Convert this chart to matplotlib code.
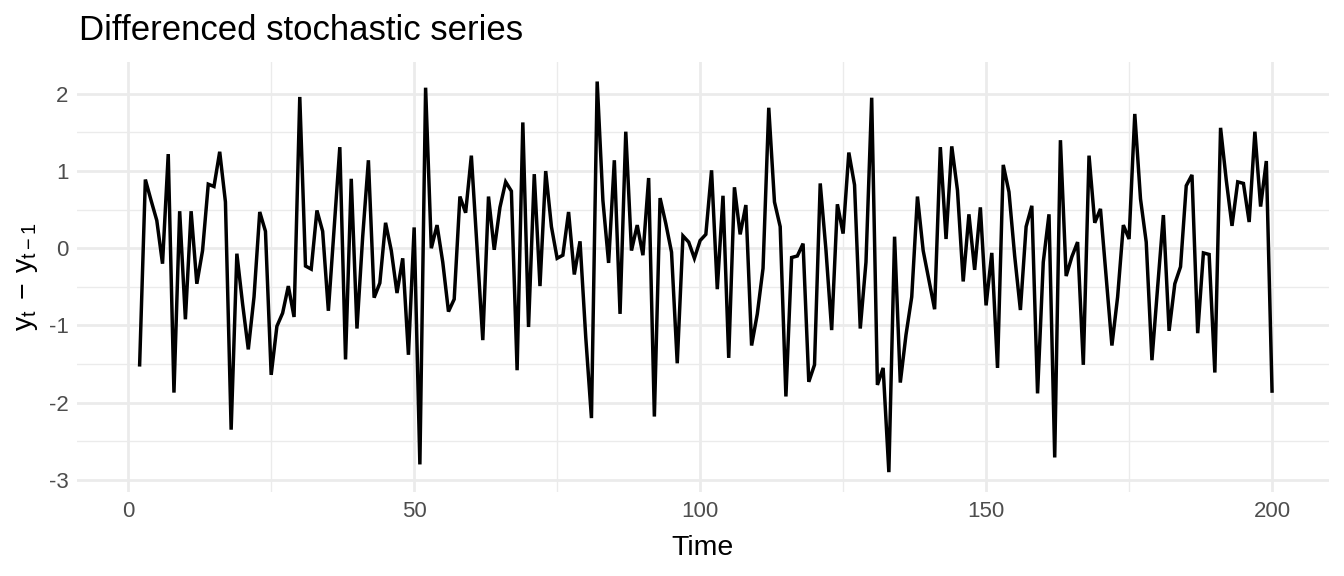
import numpy as np
import matplotlib
matplotlib.use("Agg")
import matplotlib.pyplot as plt
from matplotlib.ticker import MultipleLocator

# differenced series, t = 2..200
time = np.arange(2, 201)
diff_vals = [
    -1.51, 0.89, 0.62, 0.36, -0.20, 1.22, -1.87, 0.48, -0.92, 0.48,          # t2-11
    -0.46, -0.03, 0.83, 0.80, 1.25, 0.60, -2.35, -0.07, -0.72, -1.31,        # t12-21
    -0.63, 0.47, 0.22, -1.64, -1.01, -0.84, -0.49, -0.89, 1.96, -0.23,       # t22-31
    -0.27, 0.49, 0.22, -0.81, 0.25, 1.31, -1.44, 0.90, -1.04, 0.15,          # t32-41
    1.14, -0.64, -0.45, 0.33, -0.03, -0.58, -0.13, -1.38, 0.27, -2.80,       # t42-51
    2.08, 0.00, 0.30, -0.18, -0.82, -0.66, 0.67, 0.46, 1.20, 0.00,           # t52-61
    -1.19, 0.67, -0.02, 0.53, 0.86, 0.74, -1.58, 1.63, -1.02, 0.96,          # t62-71
    -0.49, 1.00, 0.28, -0.13, -0.09, 0.47, -0.34, 0.09, -1.15, -2.20,        # t72-81
    2.16, 0.62, -0.19, 1.14, -0.85, 1.51, -0.03, 0.30, -0.09, 0.91,          # t82-91
    -2.18, 0.65, 0.32, -0.05, -1.49, 0.16, 0.08, -0.13, 0.10, 0.18,          # t92-101
    1.01, -0.53, 0.68, -1.42, 0.79, 0.18, 0.56, -1.26, -0.85, -0.26,         # t102-111
    1.82, 0.60, 0.28, -1.92, -0.12, -0.10, 0.06, -1.73, -1.51, 0.84,         # t112-121
    -0.02, -1.06, 0.57, 0.19, 1.24, 0.82, -1.04, -0.18, 1.95, -1.77,         # t122-131
    -1.55, -2.90, 0.15, -1.74, -1.12, -0.63, 0.67, -0.03, -0.41, -0.79,      # t132-141
    1.31, 0.12, 1.32, 0.75, -0.43, 0.44, -0.28, 0.53, -0.74, -0.06,          # t142-151
    -1.55, 1.08, 0.73, -0.10, -0.80, 0.28, 0.55, -1.88, -0.18, 0.44,         # t152-161
    -2.71, 1.40, -0.36, -0.11, 0.08, -1.51, 1.20, 0.33, 0.51, -0.37,         # t162-171
    -1.26, -0.63, 0.30, 0.12, 1.74, 0.64, 0.08, -1.45, -0.50, 0.43,          # t172-181
    -1.07, -0.46, -0.24, 0.81, 0.95, -1.10, -0.06, -0.08, -1.61, 1.56,       # t182-191
    0.88, 0.29, 0.86, 0.84, 0.34, 1.51, 0.54, 1.13, -1.85,                   # t192-200
]
x_ticks = [0, 50, 100, 150, 200]
y_ticks = [-3, -2, -1, 0, 1, 2]

plt.rcParams["font.family"] = ["Liberation Sans", "DejaVu Sans"]
plt.rcParams["axes.unicode_minus"] = False
plt.rcParams["mathtext.fontset"] = "custom"
plt.rcParams["mathtext.rm"] = "Liberation Sans"
plt.rcParams["mathtext.it"] = "Liberation Sans"

fig = plt.figure(figsize=(13.44, 5.76), dpi=100)
ax = fig.add_axes([0.0573, 0.1464, 0.9315, 0.746])

ax.plot(time, diff_vals, color="black", lw=2.5, solid_joinstyle="miter", zorder=3)

# ggplot-like 5% expansion, x over t = 1..200
xr = (1, 200)
yr = (min(diff_vals), max(diff_vals))
ax.set_xlim(xr[0] - 0.05 * (xr[1] - xr[0]), xr[1] + 0.05 * (xr[1] - xr[0]))
ax.set_ylim(yr[0] - 0.05 * (yr[1] - yr[0]), yr[1] + 0.05 * (yr[1] - yr[0]))

ax.set_xticks(x_ticks)
ax.set_yticks(y_ticks)
ax.xaxis.set_minor_locator(MultipleLocator(25))
ax.yaxis.set_minor_locator(MultipleLocator(0.5))
ax.grid(True, which="major", color="#EBEBEB", lw=2.0, zorder=0)
ax.grid(True, which="minor", color="#EBEBEB", lw=1.0, zorder=0)
ax.set_axisbelow(True)
for s in ax.spines.values():
    s.set_visible(False)
ax.tick_params(which="both", length=0)
ax.tick_params(axis="both", labelsize=16, labelcolor="#4D4D4D")
ax.tick_params(axis="y", pad=6)
ax.tick_params(axis="x", pad=7)

ax.set_xlabel("Time", fontsize=20.5, labelpad=9)
ax.set_ylabel("$\\mathregular{y_t\u2009\u2212\u2009y_{t\u22121}}$", fontsize=20.5, labelpad=6)

fig.text(0.0588, 0.9306, "Differenced stochastic series", fontsize=25,
         ha="left", va="baseline")

fig.savefig("out.png", dpi=100, facecolor="white")
